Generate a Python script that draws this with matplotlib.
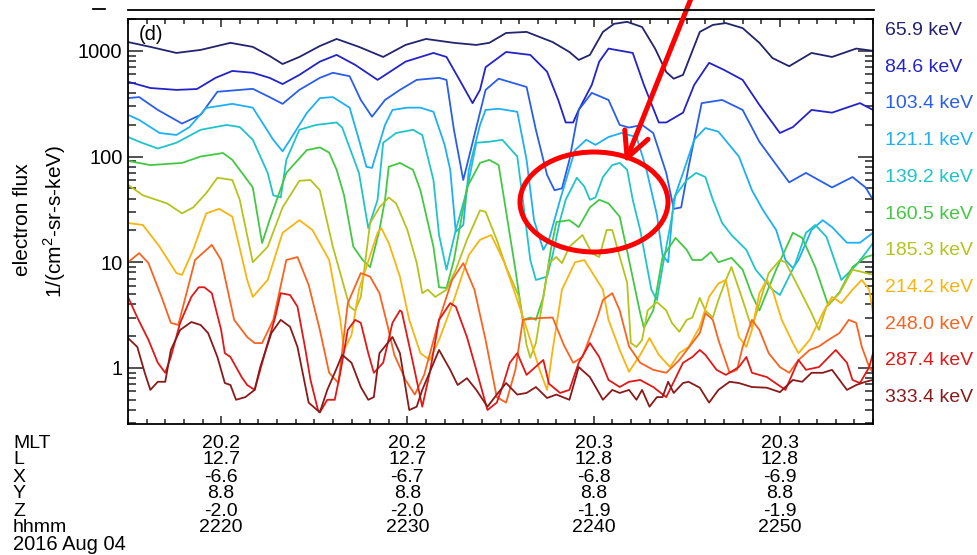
import numpy as np
import matplotlib
matplotlib.use('Agg')
import matplotlib.pyplot as plt
from matplotlib.patches import Ellipse
from matplotlib.lines import Line2D
from matplotlib import transforms
from matplotlib.ticker import MultipleLocator, LogLocator, NullFormatter

plt.rcParams['font.family'] = ['Liberation Sans', 'DejaVu Sans']
plt.rcParams['mathtext.fontset'] = 'custom'
plt.rcParams['mathtext.rm'] = 'Liberation Sans'

# time in minutes after 22:00 UT, flux in 1/(cm2-sr-s-keV)
t_659 = [15.0,16.2,17.6,18.9,20.5,21.7,22.6,23.3,24.2,25.3,26.2,27.4,28.7,29.9,31.0,32.5,33.7,34.4,35.3,36.4,37.8,38.7,39.2,39.8,40.5,41.1,41.8,42.6,43.3,43.9,44.3,44.8,45.7,46.4,47.1,48.0,48.9,49.6,50.5,51.7,52.8,54.1,55.0]
f_659 = [1210,1090,955,1020,1190,1090,895,750,875,1110,1295,1090,875,1137,1295,1190,1137,1190,1475,1510,1210,975,820,915,1510,1800,1880,1680,1050,630,545,592,1510,1758,1830,1640,1190,855,715,955,875,1050,1000]

t_846 = [15.0,16.2,17.6,18.7,19.7,20.6,21.7,22.6,23.3,24.2,25.3,26.2,27.2,28.4,29.9,31.4,32.1,32.8,33.5,33.9,34.2,35.3,36.6,37.5,38.1,38.5,38.9,39.2,39.9,40.3,40.8,42.1,42.7,43.5,43.9,44.8,45.4,46.2,47.0,48.0,48.9,50.0,50.7,51.7,52.8,54.3,55.0]
f_846 = [510,445,427,435,555,645,620,555,485,592,790,915,736,531,790,955,875,531,320,427,700,975,915,635,343,210,210,276,476,790,1050,955,476,210,210,260,476,770,660,531,308,167,190,276,260,320,276]

t_1034 = [15.0,15.6,16.6,17.9,18.9,19.8,21.7,22.6,23.3,24.2,25.3,26.0,26.9,27.5,28.1,28.8,29.6,30.5,31.7,32.1,32.5,33.0,33.4,34.2,34.9,36.4,36.9,37.5,37.9,38.3,38.7,39.2,39.9,40.8,41.4,41.9,42.6,43.2,43.9,44.3,44.7,45.1,45.8,46.9,48.0,48.9,50.0,50.5,51.4,52.8,53.9,54.6,55.0]
f_1034 = [357,365,276,205,248,410,437,365,315,427,555,620,575,343,238,343,427,531,555,531,179,60,115,427,545,455,179,67,48,50,93,276,400,343,199,188,199,167,70,32,33,80,320,343,276,138,75,57,70,51,64,51,39]

t_1211 = [15.0,15.6,16.7,17.6,18.3,19.2,20.6,21.7,22.8,23.3,23.7,24.6,25.3,26.0,26.9,27.4,27.8,28.1,28.8,29.2,30.0,30.7,31.4,32.0,32.3,32.6,33.0,33.3,33.9,34.2,34.9,35.9,36.4,36.8,37.3,37.6,38.2,39.0,39.6,40.1,40.8,41.5,42.3,42.8,43.4,43.7,44.0,44.3,44.8,45.4,46.0,46.7,47.8,48.5,49.1,49.8,50.3,50.7,51.0,51.7,52.3,52.8,53.6,54.3,55.0]
f_1211 = [248,222,167,160,190,288,315,290,144,112,144,258,357,365,290,144,80,78,199,276,290,290,265,129,75,19.4,22.5,75,199,276,283,265,93,25,13.1,16.3,39,115,144,129,153,167,153,80,28,11.7,10,39,70,144,186,172,100,48,31,20.2,10.5,8.8,10.5,20.2,25,21.5,15.3,15.3,19]

t_1392 = [15.0,15.6,16.6,17.6,18.9,20.3,21.0,21.7,22.5,22.8,23.2,23.5,24.2,25.1,26.2,26.5,27.4,27.9,28.4,28.7,29.4,30.3,30.8,31.4,31.7,32.1,32.6,33.2,33.7,34.4,35.1,35.9,36.2,36.6,36.9,37.5,37.8,38.2,38.5,39.1,39.5,39.8,40.1,40.5,41.0,41.4,41.8,42.1,42.5,42.8,43.1,43.4,43.7,44.1,44.4,45.0,45.5,46.0,46.4,46.9,47.4,48.2,48.7,49.6,50.0,50.8,51.4,51.9,52.5,53.3,54.1,54.6,55.0]
f_1392 = [153,138,119,135,179,199,190,144,70,43,41,93,179,199,210,188,70,21,39,135,167,179,160,60,18.1,8.5,20.2,48,135,138,144,100,39,10.5,6.8,7.3,11.7,25,39,63,52,39,41,64,83,87,75,39,20.2,10.5,5.5,4.4,9.0,21.5,43,60,70,64,39,23.5,18.1,13.1,8.5,5.5,4.9,9.4,19,22.5,17.4,6.8,9.4,12.2,15.2]

t_1605 = [15.0,16.2,17.9,18.9,20.1,20.6,21.7,22.2,22.6,23.5,24.6,25.3,25.8,26.2,26.6,27.1,27.6,28.0,28.5,28.8,29.0,29.6,30.3,30.7,31.4,31.7,32.1,32.5,33.2,33.9,34.4,34.9,35.2,35.8,36.2,36.6,36.9,37.3,37.7,38.0,38.7,39.2,39.8,40.3,40.8,41.4,41.9,42.5,42.7,43.2,43.7,44.4,45.0,45.3,45.8,46.3,46.7,47.4,48.0,48.5,48.9,49.8,50.7,51.2,51.9,52.6,53.2,53.9,54.6,55.0]
f_1605 = [91,83,87,100,108,93,51,15.2,25,70,115,122,109,75,43,14,10.5,9.0,20.2,39,80,87,75,48,14,5.8,5.7,10.5,51,87,93,83,39,8.5,2.85,3.0,2.85,4.7,13.1,24,25,21.5,33,39,36,27,10.5,3.3,2.4,3.5,11.2,17,13.1,10.5,10.5,12.5,10,11,8.5,4.9,3.5,8.5,19,17,9.0,3.9,5.2,9.0,11.2,11.7]

t_1853 = [15.0,15.8,17.1,17.9,18.5,19.2,19.8,20.6,21.0,21.7,22.5,23.3,24.2,24.8,25.3,26.0,26.9,27.2,27.5,28.0,28.5,29.0,29.4,30.0,30.5,30.8,31.1,31.5,32.1,32.6,33.2,33.9,34.2,34.8,35.3,36.0,36.4,36.6,36.9,37.3,37.6,38.0,38.3,38.7,39.4,39.9,40.3,40.7,41.0,41.5,41.8,42.0,42.3,42.6,42.9,43.4,43.9,44.2,44.6,45.0,45.3,45.7,46.0,46.4,46.7,47.1,47.4,48.0,48.4,48.5,49.4,50.0,50.3,51.0,51.7,52.1,52.5,53.2,53.9,54.4,55.0]
f_1853 = [54,43,36,29,33,45,63,60,39,10,14,33,59,60,48,14,3.8,3.5,4.7,23.5,33,41,36,20.2,9.9,5.1,5.5,4.7,5.5,8.5,16.3,31,30,16.3,9.0,4.7,1.65,1.25,1.72,4.7,9.8,11.2,9.8,14,18.1,12.2,11.2,20.2,20.2,9.8,6.4,1.72,1.58,1.84,3.5,4.2,3.5,2.67,2.2,2.85,3.0,4.6,3.5,3.0,4.4,6.8,9.0,4.4,2.67,2.4,7.9,10.5,10,5.8,3.3,2.29,3.8,5.1,8.5,8.1,7.6]

t_2142 = [15.0,15.8,16.7,17.6,17.9,18.5,19.2,19.9,20.6,21.4,21.7,22.5,23.3,24.2,24.9,25.8,26.4,26.6,27.0,27.4,28.4,28.6,29.0,29.6,30.1,30.7,31.2,31.7,32.5,33.3,33.9,34.5,35.2,35.9,36.6,37.1,37.5,37.8,38.3,39.0,39.5,40.0,40.5,40.8,41.4,41.9,42.5,43.0,43.5,44.1,44.6,45.1,45.7,46.2,46.7,47.1,47.4,47.8,48.2,48.5,48.9,49.3,49.6,50.1,50.7,51.0,51.6,52.3,52.8,53.3,53.9,54.4,54.8,55.0]
f_2142 = [23.5,22.5,14,7.9,7.6,13.1,29,32,27,6.8,4.7,6.8,19,25,20.2,10.5,2.85,1.48,2.05,5.5,19,21,15.2,7.3,2.85,1.38,1.19,1.84,4.4,11.7,16.3,18.1,10,4.4,1.84,0.96,0.62,1.48,5.5,10,10.5,7.6,5.5,2.85,1.48,0.92,1.33,1.92,1.33,1.02,1.38,1.58,2.45,4.7,6.3,6.8,3.8,1.96,1.58,2.29,5.1,6.8,5.5,2.85,1.72,1.38,1.84,3.3,4.7,4.1,5.5,6.8,5.5,3.3]

t_2480 = [15.0,15.6,16.1,16.8,17.3,17.7,18.6,19.5,20.0,20.7,21.4,21.8,22.2,22.8,23.5,24.1,24.7,25.3,25.8,26.3,26.8,27.5,28.0,28.5,28.9,29.3,29.9,30.4,30.9,31.7,32.4,33.0,33.6,34.2,34.8,35.3,35.8,36.2,36.9,37.8,38.4,38.9,39.4,40.2,40.5,41.0,41.4,41.9,42.5,43.2,43.9,44.6,45.7,46.0,46.4,46.7,47.3,47.7,48.0,48.5,48.9,49.4,50.0,50.5,51.0,51.6,52.1,52.6,53.2,53.7,54.1,54.4,54.8,55.0]
f_2480 = [10,12.2,9.8,4.7,2.67,2.55,10.5,14.6,10.5,2.85,1.96,1.72,1.72,2.85,10.5,11.2,6.1,2.29,0.9,0.72,4.1,7.9,7.3,5.1,2.67,1.33,0.77,0.56,0.86,2.85,6.8,9.8,5.5,1.84,0.53,0.47,0.96,2.85,2.95,3.0,1.65,1.12,1.27,3.0,4.4,5.1,3.5,1.6,1.12,0.96,0.9,1.19,2.14,3.3,2.85,1.84,0.9,0.96,1.58,2.85,2.29,1.38,1.02,0.9,1.19,1.48,1.6,1.84,2.14,2.85,2.67,1.58,1.02,0.9]

t_2874 = [15.0,15.5,16.1,16.6,17.0,17.3,17.8,18.4,18.8,19.1,19.5,20.0,20.2,20.5,21.1,21.4,21.8,22.1,22.5,22.9,23.2,23.7,24.1,24.5,24.8,25.2,25.3,25.7,26.1,26.4,26.8,27.2,27.5,27.9,28.2,28.7,29.2,29.6,29.7,30.3,30.8,31.2,31.7,32.3,32.6,33.2,33.7,34.3,34.8,35.1,35.5,35.9,36.4,37.3,37.6,38.2,38.7,39.2,39.8,40.3,40.8,41.4,41.9,42.5,43.2,43.9,44.8,45.3,45.7,46.0,46.6,47.1,47.8,48.2,48.5,49.3,50.3,51.0,51.4,52.1,53.0,53.6,53.9,54.3,54.8,55.0]
f_2874 = [4.7,3.0,1.84,1.12,0.9,1.27,2.67,4.7,5.8,5.8,5.1,2.29,1.38,1.27,0.82,0.69,0.62,0.96,1.72,3.0,5.1,4.9,3.8,1.58,0.77,0.40,0.38,0.50,0.50,0.9,2.29,2.85,2.67,1.38,0.9,1.12,2.67,3.5,3.4,1.12,0.43,0.9,2.85,4.1,3.8,1.96,0.96,0.40,0.47,0.66,1.12,1.38,0.86,1.19,0.71,0.58,0.62,1.12,1.72,1.27,0.77,0.66,0.74,0.77,0.66,0.53,1.12,1.27,1.48,1.33,0.96,0.86,1.02,1.27,0.9,0.82,0.62,1.19,0.96,1.02,1.48,1.12,0.77,0.72,1.02,1.38]

t_3334 = [15.0,15.5,15.9,16.2,16.6,17.0,17.3,17.8,18.4,18.9,19.3,19.8,20.2,20.5,20.8,21.3,21.8,22.1,22.7,23.2,23.7,24.1,24.7,25.3,25.7,26.1,26.5,27.0,27.5,27.9,28.2,28.5,29.2,29.6,30.1,30.5,30.8,31.7,32.3,32.7,33.2,33.7,34.3,34.8,35.3,35.9,36.4,36.9,37.5,38.0,38.7,39.2,39.8,40.5,41.0,41.4,41.9,42.3,42.6,43.0,43.4,43.7,44.0,44.3,44.8,45.1,45.7,46.2,46.7,47.3,47.8,48.5,49.3,50.0,50.7,51.2,51.7,52.3,52.8,53.6,54.1,54.6,55.0]
f_3334 = [1.92,1.58,0.9,0.62,0.74,0.74,1.48,2.29,2.72,2.55,2.14,1.27,0.72,0.69,0.50,0.53,0.62,1.02,2.14,2.85,2.45,1.58,0.47,0.38,0.62,0.9,1.33,1.12,0.66,0.50,0.53,1.38,1.96,1.38,0.40,0.43,0.62,1.48,0.96,0.69,0.80,0.62,0.43,0.56,0.72,0.56,0.58,0.66,0.52,0.56,0.50,1.02,0.82,0.50,0.62,0.58,0.62,0.50,0.62,0.43,0.53,0.53,0.74,0.58,0.72,0.74,0.65,0.47,0.62,0.74,0.72,0.66,0.65,0.59,0.77,0.74,0.9,0.9,0.96,0.62,0.69,0.74,0.77]

labels = ['65.9 keV', '84.6 keV', '103.4 keV', '121.1 keV', '139.2 keV', '160.5 keV',
          '185.3 keV', '214.2 keV', '248.0 keV', '287.4 keV', '333.4 keV']
colors = ['#23236e', '#2323c8', '#2a5ee6', '#1eb0f0', '#20c4c8', '#44c844',
          '#b4c41c', '#f8b410', '#f86420', '#e21818', '#8a1a1a']
times = [t_659, t_846, t_1034, t_1211, t_1392, t_1605, t_1853, t_2142, t_2480, t_2874, t_3334]
fluxes = [f_659, f_846, f_1034, f_1211, f_1392, f_1605, f_1853, f_2142, f_2480, f_2874, f_3334]

# ephemeris rows under the axis
tick_min = [20, 30, 40, 50]
row_names = ['MLT', 'L', 'X', 'Y', 'Z', 'hhmm']
row_vals = [['20.2', '20.2', '20.3', '20.3'],
            ['12.7', '12.7', '12.8', '12.8'],
            ['-6.6', '-6.7', '-6.8', '-6.9'],
            ['8.8', '8.8', '8.8', '8.8'],
            ['-2.0', '-2.0', '-1.9', '-1.9'],
            ['2220', '2230', '2240', '2250']]

W, H = 977, 555
fig = plt.figure(figsize=(W/100, H/100), dpi=100)
ax = fig.add_axes([128/W, 1-424/H, 745/W, 405/H])

for t, f, c in zip(times, fluxes, colors):
    ax.plot(t, f, color=c, lw=1.3)

ax.set_yscale('log')
ax.set_xlim(15, 55)
ax.set_ylim(0.295, 2000)
ax.xaxis.set_major_locator(MultipleLocator(10))
ax.xaxis.set_minor_locator(MultipleLocator(1))
ax.set_yticks([1, 10, 100, 1000])
ax.set_yticklabels(['1', '10', '100', '1000'])
ax.yaxis.set_minor_locator(LogLocator(base=10, subs=np.arange(2, 10), numticks=20))
ax.yaxis.set_minor_formatter(NullFormatter())
ax.tick_params(axis='both', which='both', direction='in', top=True, right=True,
               labelbottom=False, width=1.1, color='#222222')
ax.tick_params(axis='x', which='major', length=6)
ax.tick_params(axis='x', which='minor', length=3.3)
ax.tick_params(axis='y', which='major', length=10.5, labelsize=14.5, pad=4)
ax.tick_params(axis='y', which='minor', length=5.5)
[ax.spines[s].set_linewidth(1.3) for s in ['top', 'bottom', 'left', 'right']]

ax.text(0.015, 0.962, '(d)', transform=ax.transAxes, fontsize=14.5, va='center')

fig.text(23/W, 1-220/H, 'electron flux', rotation=90, ha='center', va='center', fontsize=15)
fig.text(55/W, 1-221/H, '1/(cm$^2$-sr-s-keV)', rotation=90, ha='center', va='center', fontsize=15)

for i, (lab, c) in enumerate(zip(labels, colors)):
    fig.text(885/W, 1-(30.5+36.7*i)/H, lab, color=c, fontsize=14, ha='left', va='center')

trans = transforms.blended_transform_factory(ax.transData, fig.transFigure)
row_y = [443, 460, 477, 494, 511, 527]
for name, vals, y in zip(row_names, row_vals, row_y):
    fig.text(13/W, 1-y/H, name, fontsize=14, ha='left', va='center')
    for tm, v in zip(tick_min, vals):
        fig.text(tm, 1-y/H, v, transform=trans, fontsize=14, ha='center', va='center')
fig.text(13/W, 1-544/H, '2016 Aug 04', fontsize=14.5, ha='left', va='center')

# remains of the panel above
fig.add_artist(Line2D([128/W, 874/W], [1-10/H, 1-10/H], color='k', lw=1.3))
fig.add_artist(Line2D([93/W, 105/W], [1-9/H, 1-9/H], color='k', lw=1.3))

# red highlight
fig.add_artist(Ellipse((594/W, 1-202/H), 148/W, 100/H, transform=fig.transFigure,
                       fill=False, ec='red', lw=3.6))
ax.annotate('', xy=(625/W, 1-163/H), xycoords='figure fraction',
            xytext=(692/W, 1+4/H), textcoords='figure fraction',
            arrowprops=dict(arrowstyle='->,head_length=0.9,head_width=0.45', color='red',
                            lw=3.6, shrinkA=0, shrinkB=0, mutation_scale=20),
            annotation_clip=False)

fig.savefig('out.png', dpi=100)
